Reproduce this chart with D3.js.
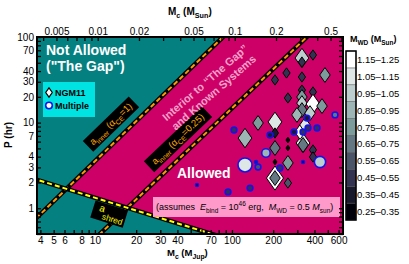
<!DOCTYPE html>
<html><head><meta charset="utf-8">
<script src="https://cdn.jsdelivr.net/npm/d3@7"></script>
<style>body{margin:0;background:#fff} text{font-family:"Liberation Sans",Arial,sans-serif}</style>
</head><body><svg id="c" width="409" height="264"></svg>
<script>
// ---------- data ----------
const xTicksJup = [4,5,6,8,10,20,30,40,70,100,200,400,600];
const xTicksSun = [0.005,0.01,0.02,0.05,0.1,0.2,0.5];
const yTicks = [1,2,3,4,7,10,20,30,40,70,100];
const MJUP_IN_MSUN = 0.000954;
const wdBins = ["0.25–0.35","0.35–0.45","0.45–0.55","0.55–0.65","0.65–0.75","0.75–0.85","0.85–0.95","0.95–1.05","1.05–1.15","1.15–1.25"];
const wdColors = ["#00000b","#19192e","#323251","#4a556a","#637883","#7c9c9c","#9db5b5","#bdcece","#dee6e6","#ffffff"];
// NGM11 systems (diamonds): companion mass (M_Jup), period (hr), marker weight, M_WD bin
const ngmM   = [155,206,124.5,206,256,206,206,256,256,206,250,324,324,390,324,477,324,390,324,324,390,454,206,256,256,206,330,330,390,390,324,371,314,341,298];
const ngmP   = [9.9,10.2,6.6,5.05,3.38,2.25,2.25,1.97,19.4,31.5,38,56.8,51,61.6,34.1,36,24,22.8,19.9,16.9,16.5,15.6,7.56,6.26,5.05,3.47,5.78,5.48,4.79,3.97,14,12.9,7.77,9.4,12.3];
const ngmW   = [2,3,3,2,2,4,2,1,1,1,1,3,1,1,1,2,1,1,2,2,3,2,1,0,0,0,3,2,1,1,2,2,2,2,2];
const ngmBin = [5,8,6,4,5,9,4,3,2,2,2,7,2,2,2,5,2,2,5,7,9,5,1,0,0,0,8,4,2,2,4,7,9,8,6];
// Multiple systems (circles)
const mulM   = [103.5,189.6,177,124.5,149.8,155,224,135.5,93.6,55.6,283.6,330,439,353,417.6,565,359,330];
const mulP   = [8.2,7.17,4.42,3.2,3.47,3.03,2.95,1.72,1.55,1.87,7.77,3.47,3.47,11.3,8.65,12.3,8.65,7.77];
const mulW   = [1,1,2,4,0,1,1,1,1,0,1,0,3,1,1,1,1,1];
const mulBin = [2,1,6,8,1,3,2,2,2,0,1,0,7,1,2,4,2,2];
// boundary lines (M_Jup, P hr)
const lineInner1   = [[3.78,0.78],[86,100]];
const lineInner025 = [[10.87,0.5],[352,100]];
const lineShred    = [[3.78,2.15],[71.4,0.5]];
// annotation anchors (M_Jup, P hr)
const anchorInner1 = [13.1,9.6];
const anchorInner025 = [40.4,6.4];
const anchorShred = [12.7,0.856];
const anchorInterior = [68,26];

// ---------- layout ----------
const svg = d3.select("#c");
const L=37,R=343,T=37,B=234;
const x = d3.scaleLog().domain([3.78,646]).range([L,R]);
const y = d3.scaleLog().domain([0.5,100]).range([B,T]);
const xs = d3.scaleLog().domain(x.domain().map(d=>d*MJUP_IN_MSUN)).range([L,R]);
const hw = d3.scaleLinear().domain([0,4]).range([2,8.5]);
const cr = d3.scaleLinear().domain([0,4]).range([1.5,7]);
const TEAL="#048080", MAG="#cc0066";

const defs = svg.append("defs");
defs.append("clipPath").attr("id","plot").append("rect").attr("x",L).attr("y",T).attr("width",R-L).attr("height",B-T);

function ext(line){
  const p=[x(line[0][0]),y(line[0][1])], q=[x(line[1][0]),y(line[1][1])];
  const dx=q[0]-p[0], dy=q[1]-p[1];
  return [[p[0]-dx*3,p[1]-dy*3],[q[0]+dx*3,q[1]+dy*3]];
}
function ang(line){
  const p=[x(line[0][0]),y(line[0][1])], q=[x(line[1][0]),y(line[1][1])];
  return Math.atan2(q[1]-p[1],q[0]-p[0])*180/Math.PI;
}
const l1=ext(lineInner1), l2=ext(lineInner025), ls=ext(lineShred);
defs.append("clipPath").attr("id","above").append("path")
  .attr("d", d3.line()([ls[0],ls[1],[ls[1][0],-3000],[ls[0][0],-3000]]));

const plot = svg.append("g").attr("clip-path","url(#plot)");
plot.append("rect").attr("x",L).attr("y",T).attr("width",R-L).attr("height",B-T).attr("fill",TEAL);
plot.append("g").attr("clip-path","url(#above)").append("path")
  .attr("d", d3.line()([l1[0],l1[1],[l1[1][0]+3000,l1[1][1]],[l1[0][0]+3000,l1[0][1]]]))
  .attr("fill",MAG);

function drawLine(l,col){
  plot.append("line").attr("x1",l[0][0]).attr("y1",l[0][1]).attr("x2",l[1][0]).attr("y2",l[1][1])
    .attr("stroke","#000").attr("stroke-width",4.5);
  plot.append("line").attr("x1",l[0][0]).attr("y1",l[0][1]).attr("x2",l[1][0]).attr("y2",l[1][1])
    .attr("stroke",col).attr("stroke-width",2).attr("stroke-dasharray","5,3");
}
drawLine(l1,"#ff9a00"); drawLine(l2,"#ff9a00"); drawLine(ls,"#ffff00");

function rich(t, parts, fs){
  let shift=0;
  parts.forEach(([s,k])=>{
    const ts=t.append("tspan").text(s);
    const target = (k==="sub") ? fs*0.32 : k==="sup" ? -fs*0.42 : 0;
    ts.attr("dy", target-shift); shift=target;
    if(k==="sub"||k==="sup") ts.attr("font-size", fs*0.72);
    if(k==="i") ts.attr("font-style","italic");
  });
}
function boxLabel(anchor, angle, w, h, parts, col, fs){
  const g = plot.append("g").attr("transform",`translate(${x(anchor[0])},${y(anchor[1])}) rotate(${angle})`);
  g.append("rect").attr("x",-w/2).attr("y",-h/2).attr("width",w).attr("height",h).attr("fill","#000");
  const t = g.append("text").attr("text-anchor","middle").attr("y",fs*0.3).attr("fill",col).attr("font-size",fs);
  rich(t, parts, fs);
}
boxLabel(anchorInner1, ang(lineInner1), 64, 15, [["a",""],["inner","sub"],[" (α",""],["CE","sub"],["=1)",""]], "#ffaa00", 9.5);
boxLabel(anchorInner025, ang(lineInner025), 80, 15, [["a",""],["inner","sub"],[" (α",""],["CE","sub"],["=0.25)",""]], "#ffaa00", 9.5);
{
  const g = plot.append("g").attr("transform",`translate(${x(anchorShred[0])},${y(anchorShred[1])}) rotate(${ang(lineShred)})`);
  g.append("rect").attr("x",-17).attr("y",-9).attr("width",34).attr("height",18).attr("fill","#000");
  g.append("text").attr("x",-11).attr("y",0).attr("fill","#ffff00").attr("font-size",10).text("a");
  g.append("text").attr("x",-6).attr("y",7).attr("fill","#ffff00").attr("font-size",8.5).text("shred");
}
{
  const g = plot.append("g").attr("transform",`translate(${x(anchorInterior[0])},${y(anchorInterior[1])}) rotate(-41)`);
  g.append("text").attr("text-anchor","middle").attr("y",-2).attr("fill","#f4a2ca").attr("font-size",11).attr("font-weight","bold").text("Interior to “The Gap”");
  g.append("text").attr("text-anchor","middle").attr("y",11).attr("fill","#f4a2ca").attr("font-size",11).attr("font-weight","bold").text("and Known Systems");
}
plot.append("text").attr("x",46).attr("y",55).attr("fill","#fff").attr("font-size",14).attr("font-weight","bold").text("Not Allowed");
plot.append("text").attr("x",46).attr("y",71).attr("fill","#fff").attr("font-size",14).attr("font-weight","bold").text("(\"The Gap\")");
plot.append("text").attr("x",177).attr("y",178).attr("fill","#fff").attr("font-size",14).attr("font-weight","bold").text("Allowed");

// pink assumption box
plot.append("rect").attr("x",153).attr("y",197).attr("width",187).attr("height",20).attr("fill","#ff9acb");
{
  const t = plot.append("text").attr("x",156).attr("y",210).attr("fill","#000").attr("font-size",9).attr("xml:space","preserve");
  rich(t, [["(assumes  ",""],["E","i"],["bind","sub"],[" = 10",""],["46","sup"],[" erg,  ",""],["M","i"],["WD","sub"],[" = 0.5 ",""],["M","i"],["sun","sub"],[")",""]], 9);
}

// points
const diamond = (cx,cy,w)=>{const h=w*1.42; return `M${cx},${cy-h}L${cx+w},${cy}L${cx},${cy+h}L${cx-w},${cy}Z`;};
plot.append("g").selectAll("path").data(d3.range(ngmM.length)).join("path")
  .attr("d", i=>diamond(x(ngmM[i]),y(ngmP[i]),hw(ngmW[i])))
  .attr("fill", i=>wdColors[ngmBin[i]]).attr("stroke","#000").attr("stroke-width",1);
plot.append("g").selectAll("circle").data(d3.range(mulM.length)).join("circle")
  .attr("cx", i=>x(mulM[i])).attr("cy", i=>y(mulP[i])).attr("r", i=>cr(mulW[i]))
  .attr("fill", i=>wdColors[mulBin[i]]).attr("stroke","#1414e6").attr("stroke-width",1.6);

// legend
const lg = svg.append("g");
lg.append("rect").attr("x",43).attr("y",82).attr("width",52).attr("height",35).attr("fill","#00e3e3");
lg.append("path").attr("d",diamond(49,92.5,3.3)).attr("fill","#fff").attr("stroke","#000").attr("stroke-width",1.2);
lg.append("text").attr("x",55).attr("y",96).attr("font-size",9).attr("font-weight","bold").text("NGM11");
lg.append("circle").attr("cx",49).attr("cy",105.5).attr("r",3.3).attr("fill","#fff").attr("stroke","#1414e6").attr("stroke-width",1.6);
lg.append("text").attr("x",55).attr("y",109).attr("font-size",9).attr("font-weight","bold").text("Multiple");

// axes
function minors(lo,hi){const a=[];for(let e=-4;e<4;e++)for(let k=1;k<10;k++){const v=k*Math.pow(10,e);if(v>=lo&&v<=hi)a.push(+v.toPrecision(3));}return a;}
const fmt = list => d => list.some(v=>Math.abs(v-d)/d<1e-6) ? String(d) : "";
const ax = svg.append("g").attr("font-size",10);
const gb = ax.append("g").attr("transform",`translate(0,${B})`).call(d3.axisBottom(x).tickValues(minors(3.78,646)).tickSize(-4).tickPadding(3).tickFormat(fmt(xTicksJup)));
const gt = ax.append("g").attr("transform",`translate(0,${T})`).call(d3.axisTop(xs).tickValues(minors(0.0036,0.616)).tickSize(-4).tickPadding(2).tickFormat(fmt(xTicksSun)));
const gl = ax.append("g").attr("transform",`translate(${L},0)`).call(d3.axisLeft(y).tickValues(minors(0.5,100)).tickSize(-4).tickPadding(3).tickFormat(fmt(yTicks)));
const gr = ax.append("g").attr("transform",`translate(${R},0)`).call(d3.axisRight(y).tickValues(minors(0.5,100)).tickSize(-4).tickFormat(""));
[gb,gt,gl,gr].forEach(g=>{g.select(".domain").remove(); g.selectAll("line").attr("stroke","#000").attr("stroke-width",1.3); g.selectAll("text").attr("font-family","Liberation Sans, Arial, sans-serif").attr("font-size",10).attr("fill","#000");});
svg.append("rect").attr("x",L).attr("y",T).attr("width",R-L).attr("height",B-T).attr("fill","none").attr("stroke","#000").attr("stroke-width",2);

// axis titles
{
  const t=svg.append("text").attr("x",168).attr("y",15).attr("font-size",10).attr("font-weight","bold");
  rich(t,[["M",""],["c","sub"],[" (M",""],["Sun","sub"],[")",""]],10);
  const b=svg.append("text").attr("x",167).attr("y",255.5).attr("font-size",9.5).attr("font-weight","bold");
  rich(b,[["M",""],["c","sub"],[" (M",""],["Jup","sub"],[")",""]],9.5);
  svg.append("text").attr("transform","translate(12,135) rotate(-90)").attr("text-anchor","middle").attr("font-size",10).attr("font-weight","bold").text("P (hr)");
}

// colorbar
const cb = svg.append("g");
const cy = d3.scaleBand().domain(d3.range(10).reverse()).range([51,220]);
cb.selectAll("rect.s").data(d3.range(10)).join("rect").attr("class","s")
  .attr("x",346).attr("y",i=>cy(i)).attr("width",10).attr("height",cy.bandwidth()).attr("fill",i=>wdColors[i]).attr("stroke","#555").attr("stroke-width",0.5);
cb.append("rect").attr("x",346).attr("y",51).attr("width",10).attr("height",169).attr("fill","none").attr("stroke","#000").attr("stroke-width",1.5);
cb.selectAll("text.l").data(d3.range(10)).join("text").attr("class","l")
  .attr("x",357).attr("y",i=>cy(i)+cy.bandwidth()/2+3.5).attr("font-size",9.5).text(i=>wdBins[i]);
{
  const t=cb.append("text").attr("x",350).attr("y",42).attr("font-size",9).attr("font-weight","bold");
  rich(t,[["M",""],["WD","sub"],[" (M",""],["Sun","sub"],[")",""]],9);
}
</script></body></html>
